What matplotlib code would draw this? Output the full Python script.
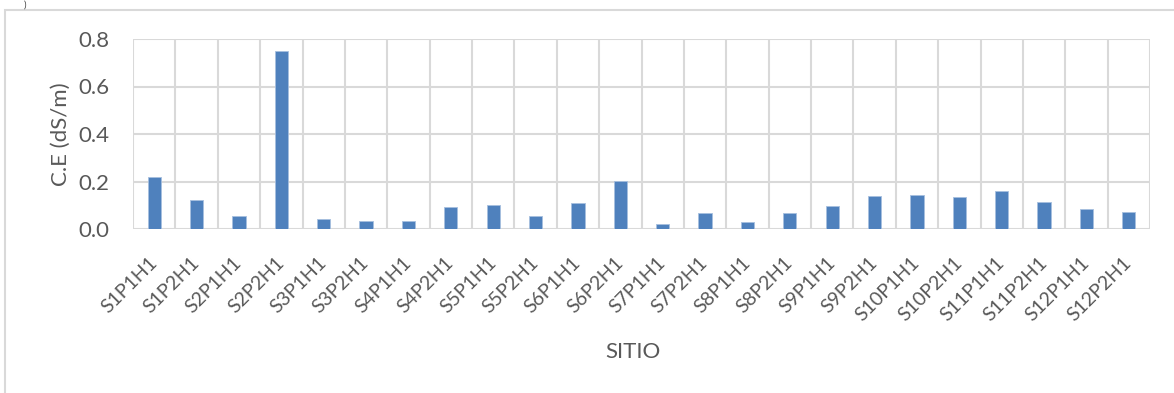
import matplotlib
matplotlib.use("Agg")
import matplotlib.pyplot as plt
from matplotlib.patches import Rectangle
from matplotlib.transforms import ScaledTranslation
import numpy as np

sites = ["S1P1H1", "S1P2H1", "S2P1H1", "S2P2H1", "S3P1H1", "S3P2H1",
         "S4P1H1", "S4P2H1", "S5P1H1", "S5P2H1", "S6P1H1", "S6P2H1",
         "S7P1H1", "S7P2H1", "S8P1H1", "S8P2H1", "S9P1H1", "S9P2H1",
         "S10P1H1", "S10P2H1", "S11P1H1", "S11P2H1", "S12P1H1", "S12P2H1"]
ce_values = [0.221, 0.123, 0.055, 0.751, 0.041, 0.032,
             0.035, 0.092, 0.103, 0.056, 0.111, 0.201,
             0.023, 0.068, 0.030, 0.066, 0.096, 0.138,
             0.144, 0.134, 0.158, 0.114, 0.083, 0.070]
y_ticks = [0.0, 0.2, 0.4, 0.6, 0.8]

plt.rcParams['font.family'] = ['Lato', 'DejaVu Sans']
text_color = "#595959"
grid_color = "#d9d9d9"
bar_color = "#4f81bd"

W, H = 1174, 393
fig = plt.figure(figsize=(W / 100, H / 100), dpi=100)
fig.patch.set_facecolor("white")

# chart frame
fig.patches.append(Rectangle((5 / W, -0.01), 1.02, 1 - 10 / H + 0.01,
                             transform=fig.transFigure, fill=False,
                             edgecolor=grid_color, linewidth=1.5))
fig.text(25 / W, 1 - 1 / H, ")", fontsize=7, color="#404040",
         ha="center", va="top")

ax = fig.add_axes([133 / W, 1 - 229 / H, (1150 - 133) / W, (229 - 39) / H])
n = len(sites)
x = np.arange(n)
ax.bar(x, ce_values, width=0.31, color=bar_color, zorder=3,
       edgecolor="#a6bfdf", linewidth=0.6)

ax.set_xlim(-0.5, n - 0.5)
ax.set_ylim(0, 0.8)
ax.set_yticks(y_ticks)
ax.set_yticklabels([f"{v:.1f}" for v in y_ticks], fontsize=16, color=text_color)

# gridlines on category boundaries and value ticks
for b in np.arange(-0.5, n, 1.0):
    ax.axvline(b, color=grid_color, linewidth=1.5, zorder=1)
for v in y_ticks:
    ax.axhline(v, color=grid_color, linewidth=1.5, zorder=1)

ax.set_xticks(x)
ax.set_xticklabels(sites, rotation=45, ha="right", va="center",
                   rotation_mode="anchor", fontsize=14, color=text_color)
shift = ScaledTranslation(-29 / 100, 0, fig.dpi_scale_trans)
for lbl in ax.get_xticklabels():
    lbl.set_transform(lbl.get_transform() + shift)
ax.tick_params(axis="x", length=0, pad=22)
ax.tick_params(axis="y", length=0, pad=17)
for s in ax.spines.values():
    s.set_visible(False)

ax.set_ylabel("C.E (dS/m)", fontsize=16, color=text_color, labelpad=5)
fig.text(633 / W, 1 - 352 / H, "SITIO", fontsize=16, color=text_color,
         ha="center", va="center")

fig.savefig("out.png", dpi=100, facecolor="white")
